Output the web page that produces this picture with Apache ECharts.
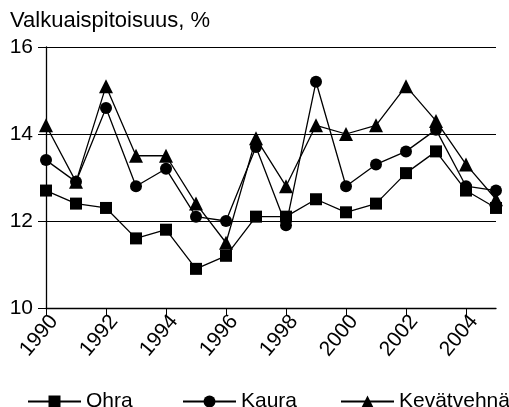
<!DOCTYPE html>
<html>
<head>
<meta charset="utf-8">
<script src="https://cdn.jsdelivr.net/npm/echarts@6/dist/echarts.min.js"></script>
<style>
html,body{margin:0;padding:0;background:#fff;}
#chart{width:509px;height:407px;}
</style>
</head>
<body>
<div id="chart"></div>
<script>
// Years on the category axis
const years = ['1990','1991','1992','1993','1994','1995','1996','1997','1998','1999','2000','2001','2002','2003','2004','2005'];
// Protein content (%) per crop
const ohra = [12.7, 12.4, 12.3, 11.6, 11.8, 10.9, 11.2, 12.1, 12.1, 12.5, 12.2, 12.4, 13.1, 13.6, 12.7, 12.3];
const kaura = [13.4, 12.9, 14.6, 12.8, 13.2, 12.1, 12.0, 13.7, 11.9, 15.2, 12.8, 13.3, 13.6, 14.1, 12.8, 12.7];
const kevatvehna = [14.2, 12.9, 15.1, 13.5, 13.5, 12.4, 11.5, 13.9, 12.8, 14.2, 14.0, 14.2, 15.1, 14.3, 13.3, 12.5];
const seriesNames = ['Ohra', 'Kaura', 'Kevätvehnä'];

const FONT = '"Liberation Sans", Arial, sans-serif';
const FS = 21;
const chart = echarts.init(document.getElementById('chart'), null, {renderer: 'canvas'});

function lineSeries(name, data, symbol, size) {
  return {
    name: name,
    type: 'line',
    data: data,
    symbol: symbol,
    symbolSize: size,
    showAllSymbol: true,
    lineStyle: {color: '#000', width: 1.3},
    itemStyle: {color: '#000'},
    emphasis: {disabled: true},
    z: 3
  };
}

// One legend block per series so each entry sits at its own spot
function legendAt(left, name) {
  return {
    top: 386, left: left,
    itemWidth: 53, itemHeight: 15, itemGap: 0,
    textStyle: {fontFamily: FONT, fontSize: FS, color: '#000'},
    data: [name],
    selectedMode: false
  };
}

chart.setOption({
  animation: false,
  backgroundColor: '#fff',
  textStyle: {fontFamily: FONT},
  title: {
    text: 'Valkuaispitoisuus, %',
    left: 5, top: 5,
    textStyle: {fontFamily: FONT, fontSize: 22, fontWeight: 'normal', color: '#000'}
  },
  grid: {left: 46, right: 13, top: 47, bottom: 99},
  legend: [legendAt(22, seriesNames[0]), legendAt(177, seriesNames[1]), legendAt(335, seriesNames[2])],
  xAxis: {
    type: 'category',
    data: years,
    boundaryGap: false,
    axisLine: {lineStyle: {color: '#000', width: 1.3}},
    axisTick: {show: true, interval: 1, length: 8, lineStyle: {color: '#000'}},
    axisLabel: {
      interval: 1, rotate: 50, color: '#000', fontSize: FS, fontFamily: FONT,
      margin: 3, verticalAlign: 'top'
    },
    splitLine: {show: false}
  },
  yAxis: {
    type: 'value',
    min: 10, max: 16, interval: 2,
    axisLine: {show: true, lineStyle: {color: '#000', width: 1.3}},
    axisTick: {show: true, length: 8, lineStyle: {color: '#000'}},
    axisLabel: {color: '#000', fontSize: FS, fontFamily: FONT, margin: 13},
    splitLine: {show: true, lineStyle: {color: '#000', width: 1}}
  },
  series: [
    lineSeries(seriesNames[0], ohra, 'rect', 12),
    lineSeries(seriesNames[1], kaura, 'circle', 12),
    lineSeries(seriesNames[2], kevatvehna, 'triangle', 14)
  ]
});
</script>
</body>
</html>
